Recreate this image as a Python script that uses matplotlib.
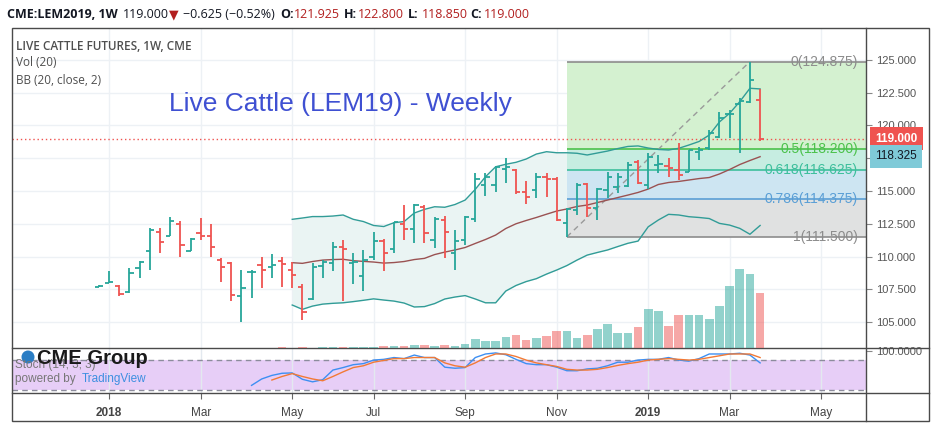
import numpy as np
import matplotlib
matplotlib.use("Agg")
import matplotlib.pyplot as plt
from matplotlib.lines import Line2D
from matplotlib.patches import Rectangle, Ellipse

plt.rcParams['font.family'] = ['Liberation Sans', 'DejaVu Sans']

W, H = 936, 424

# weekly OHLC, index 0 = week of 2017-12-25, last = week of 2019-03-25
opens = [107.70, 108.00, 107.75, 107.30, 109.10, 110.40, 111.90, 111.60, 112.50, 110.40,
         111.80, 111.60, 109.70, 109.50, 107.00, 108.80, 109.35, 109.20, 109.65, 108.97,
         107.65, 106.75, 109.25, 109.50, 110.75, 109.50, 108.50, 110.00, 111.20, 110.55,
         112.50, 112.10, 113.80, 111.25, 112.80, 110.30, 111.25, 112.85, 115.45, 115.45,
         116.70, 116.60, 114.90, 115.10, 116.10, 115.90, 112.55, 113.55, 115.50, 113.70,
         115.10, 115.30, 115.35, 117.20, 115.45, 117.00, 116.90, 116.60, 116.45, 118.00,
         118.25, 119.15, 120.85, 121.65, 121.80, 121.925]
highs = [107.80, 108.90, 107.82, 109.10, 109.66, 112.15, 112.20, 113.00, 112.70, 111.40,
         112.96, 112.50, 109.86, 109.60, 109.00, 109.00, 110.00, 110.20, 110.00, 109.60,
         107.90, 109.50, 109.70, 111.10, 111.25, 110.30, 110.50, 111.90, 111.30, 112.60,
         113.90, 114.00, 113.90, 113.00, 113.10, 112.00, 113.10, 116.40, 116.40, 116.90,
         117.50, 116.70, 115.80, 116.40, 116.40, 116.10, 113.70, 115.60, 115.60, 115.20,
         116.45, 116.40, 117.20, 117.35, 117.90, 117.75, 117.50, 118.65, 118.10, 118.35,
         119.65, 121.00, 121.20, 122.10, 124.875, 122.80]
lows = [107.65, 108.00, 107.00, 107.24, 108.33, 109.00, 110.25, 111.60, 110.00, 110.40,
        111.26, 110.00, 108.06, 106.60, 105.00, 106.80, 107.57, 108.40, 107.70, 107.60,
        105.15, 106.70, 108.40, 108.90, 106.60, 107.90, 107.40, 109.70, 108.90, 110.25,
        111.25, 111.00, 111.00, 110.65, 109.90, 109.00, 110.90, 112.60, 114.60, 114.90,
        115.60, 114.80, 114.00, 114.50, 114.55, 112.70, 111.50, 113.20, 113.00, 112.80,
        114.50, 114.85, 115.30, 115.50, 115.15, 116.40, 116.05, 115.85, 116.45, 117.35,
        118.10, 119.05, 119.05, 117.90, 121.70, 118.85]
closes = [107.75, 108.05, 107.15, 108.76, 109.60, 112.00, 111.10, 112.70, 110.90, 111.30,
          111.60, 110.70, 109.20, 107.06, 107.60, 108.85, 108.97, 109.35, 109.45, 108.60,
          105.80, 109.20, 109.60, 110.75, 110.60, 109.60, 109.70, 111.20, 110.25, 112.60,
          112.10, 113.90, 111.80, 112.85, 111.90, 111.20, 113.00, 115.90, 116.10, 116.80,
          116.80, 114.90, 114.55, 116.10, 115.90, 112.80, 113.60, 115.45, 113.70, 115.15,
          116.10, 116.10, 117.00, 115.60, 117.60, 117.05, 116.75, 116.20, 118.10, 118.10,
          119.45, 120.60, 120.90, 121.90, 123.50, 119.00]
volumes = [0.2, 0.2, 0.2, 0.2, 0.2, 0.2, 0.2, 0.2, 0.2, 0.2,
           0.4, 0.4, 0.4, 0.4, 0.4, 0.4, 0.4, 0.4, 0.7, 0.4,
           0.7, 0.4, 0.7, 0.7, 0.7, 0.7, 0.7, 0.7, 1.7, 2.3,
           2.3, 3.3, 3.3, 1.7, 3.3, 2.3, 4.3, 9.3, 6.7, 7.3,
           11.0, 13.3, 8.3, 10.0, 12.3, 17.3, 17.3, 10.0, 13.3, 19.3,
           24.3, 15.0, 15.0, 20.7, 39.3, 37.3, 22.3, 33.3, 33.3, 33.3,
           29.3, 42.3, 62.0, 79.0, 74.0, 55.0]

# Bollinger Bands (20, close, 2), first value at bar 19
bb_start = 19
bb_upper = [112.84, 112.94, 113.05, 113.05, 113.09, 113.17, 112.84, 112.67, 112.37, 112.29,
            112.58, 112.67, 113.32, 113.60, 113.80, 113.76, 113.97, 114.31, 115.13, 116.09,
            116.85, 117.04, 117.19, 117.44, 117.82, 118.00, 117.92, 117.92, 117.88, 117.75,
            117.90, 118.05, 118.24, 118.40, 118.44, 118.28, 118.17, 118.13, 118.26, 118.51,
            118.78, 119.27, 120.27, 120.93, 121.82, 122.84, 122.79]
bb_basis = [109.53, 109.48, 109.62, 109.73, 109.77, 109.79, 109.68, 109.63, 109.58, 109.50,
            109.54, 109.62, 109.77, 109.86, 110.15, 110.34, 110.50, 110.69, 111.00, 111.30,
            111.64, 112.14, 112.50, 112.75, 112.98, 113.23, 113.47, 113.63, 113.82, 113.93,
            114.12, 114.31, 114.50, 114.69, 114.89, 115.15, 115.50, 115.65, 115.73, 115.84,
            115.95, 116.03, 116.30, 116.64, 117.02, 117.33, 117.62]
bb_lower = [106.30, 105.97, 106.22, 106.37, 106.43, 106.47, 106.56, 106.66, 106.77, 106.68,
            106.60, 106.45, 106.15, 106.18, 106.41, 106.76, 106.91, 107.02, 106.76, 106.47,
            106.47, 107.37, 107.79, 108.09, 108.31, 108.66, 108.97, 109.31, 109.73, 110.11,
            110.31, 110.50, 110.76, 111.01, 111.18, 112.27, 112.79, 113.22, 113.17, 113.04,
            112.98, 112.90, 112.53, 112.40, 112.15, 111.70, 112.37]

# Stoch (14, 3, 3)
stoch_k_start = 15
stoch_k = [28.7, 41.9, 49.2, 53.6, 54.3, 41.2, 36.0, 40.4, 60.2, 65.3,
           71.2, 73.4, 80.7, 82.2, 85.9, 83.7, 91.0, 85.9, 85.9, 66.1,
           63.9, 65.3, 85.9, 93.2, 95.4, 91.7, 82.2, 73.4, 71.2, 71.2,
           66.1, 58.8, 58.8, 62.5, 63.9, 69.0, 76.3, 76.3, 80.7, 82.2,
           82.2, 85.9, 80.7, 78.5, 83.7, 93.2, 93.2, 93.2, 94.7, 91.0, 74.9]
stoch_d_start = 17
stoch_d = [39.7, 47.0, 52.9, 47.0, 41.9, 38.2, 47.0, 56.5, 65.3, 69.0,
           76.3, 80.0, 83.7, 83.7, 85.9, 85.9, 85.9, 74.9, 69.0, 66.1,
           74.9, 85.9, 93.2, 93.2, 88.1, 80.7, 74.9, 71.2, 67.6, 61.7,
           60.2, 60.2, 61.7, 65.3, 69.7, 73.4, 76.3, 80.7, 82.2, 83.7,
           82.2, 80.7, 82.2, 85.9, 89.5, 93.2, 93.2, 93.2, 85.9]

# Fibonacci retracement drawing
fib_start, fib_end = 46, 64
fib_names = ['0', '0.5', '0.618', '0.786', '1']
fib_prices = [124.875, 118.200, 116.625, 114.375, 111.500]
fib_line_colors = ['#8c8c8c', '#4cc24c', '#3dbf9c', '#5a9fd6', '#8c8c8c']
fib_zone_colors = ['#d4f1d0', '#c6ede1', '#cde5f2', '#e0e1e1']

month_ticks = [1, 10, 19, 27, 36, 45, 54, 62, 71]
month_labels = ['2018', 'Mar', 'May', 'Jul', 'Sep', 'Nov', '2019', 'Mar', 'May']
price_ticks = [105.0, 107.5, 110.0, 112.5, 115.0, 117.5, 120.0, 122.5, 125.0]
hidden_price_labels = [117.5]   # covered by the 118.325 marker

GREEN = '#26a69a'
RED = '#ef5350'
XLIM = (-8.55, 75.41)


def box(x0, y0, x1, y1):
    return [x0 / W, 1 - y1 / H, (x1 - x0) / W, (y1 - y0) / H]


def ftext(x, y, s, **kw):
    fig.text(x / W, 1 - y / H, s, va='center', **kw)


fig = plt.figure(figsize=(W / 100, H / 100), dpi=100)
ax = fig.add_axes(box(12, 28, 866, 348))
ax_vol = fig.add_axes(box(12, 28, 866, 348), zorder=3)
ax_st = fig.add_axes(box(12, 348, 866, 393))

idx = np.arange(len(closes))
up = np.array(closes) >= np.array(opens)
bar_colors = np.where(up, GREEN, RED)

# --- price pane ---
bb_x = np.arange(bb_start, bb_start + len(bb_basis))
ax.fill_between(bb_x, bb_lower, bb_upper, color='#eaf4f3', lw=0, zorder=1)

for k in range(4):
    ax.fill_between([fib_start, XLIM[1]], fib_prices[k + 1], fib_prices[k],
                    color=fib_zone_colors[k], lw=0, zorder=2)
for name, p, c in zip(fib_names, fib_prices, fib_line_colors):
    ax.hlines(p, fib_start, XLIM[1], color=c, lw=1.2, zorder=3)
    ax.annotate('%s(%.3f)' % (name, p), xy=(1.0, p), xycoords=ax.get_yaxis_transform(),
                xytext=(-8, 0), textcoords='offset pixels', ha='right', va='center',
                color=c, fontsize=10, zorder=7)
ax.plot([fib_start, fib_end], [fib_prices[-1], fib_prices[0]], color='#9a9a9a',
        lw=1, ls=(0, (4, 3)), zorder=3)

ax.plot(bb_x, bb_upper, color='#319c97', lw=1, zorder=4)
ax.plot(bb_x, bb_lower, color='#319c97', lw=1, zorder=4)
ax.plot(bb_x, bb_basis, color='#9a5252', lw=1, zorder=4)

ax.vlines(idx, lows, highs, colors=bar_colors, lw=1.3, zorder=6)
ax.hlines(opens, idx - 0.42, idx, colors=bar_colors, lw=1.3, zorder=6)
ax.hlines(closes, idx, idx + 0.42, colors=bar_colors, lw=1.3, zorder=6)

ax.axhline(closes[-1], color=RED, lw=1, ls=(0, (1, 2)), zorder=5)

ax.set_xlim(XLIM)
ax.set_ylim(103.02, 127.44)
ax.set_xticks(month_ticks)
ax.set_yticks(price_ticks)
ax.set_yticklabels(['' if v in hidden_price_labels else '%.3f' % v for v in price_ticks])
ax.yaxis.tick_right()
ax.tick_params(axis='x', bottom=False, labelbottom=False)
ax.tick_params(axis='y', length=4, width=0.8, color='#888888', labelsize=8,
               labelcolor='#555555', pad=3)
ax.grid(color='#edf1f5', lw=1)
ax.set_axisbelow(True)
for s in ax.spines.values():
    s.set_visible(False)

ax.annotate('%.3f' % closes[-1], xy=(1.0, closes[-1]), xycoords=ax.get_yaxis_transform(),
            xytext=(9, 0), textcoords='offset pixels', ha='left', va='center',
            color='white', fontsize=8.5, fontweight='bold', zorder=8, annotation_clip=False,
            bbox=dict(boxstyle='square,pad=0.45', fc='#ef5350', ec='none'))
ax.annotate('118.325', xy=(1.0, 118.325), xycoords=ax.get_yaxis_transform(),
            xytext=(9, -9), textcoords='offset pixels', ha='left', va='center',
            color='#131722', fontsize=8.5, zorder=8, annotation_clip=False,
            bbox=dict(boxstyle='square,pad=0.45', fc='#7fcad8', ec='none'))

# --- volume overlay ---
ax_vol.bar(idx, volumes, width=0.85, color=bar_colors, alpha=0.5, lw=0)
ax_vol.set_xlim(XLIM)
ax_vol.set_ylim(0, 320)
ax_vol.axis('off')
ax_vol.patch.set_alpha(0)

# --- stochastic pane ---
ax_st.axhspan(20, 80, color='#e7cef7', lw=0, zorder=0)
ax_st.axhline(80, color='#8c8c9c', lw=1, ls=(0, (4, 3)), zorder=1)
ax_st.axhline(20, color='#8c8c9c', lw=1, ls=(0, (4, 3)), zorder=1)
ax_st.plot(np.arange(stoch_k_start, stoch_k_start + len(stoch_k)), stoch_k,
           color='#3d8ff2', lw=1, zorder=3)
ax_st.plot(np.arange(stoch_d_start, stoch_d_start + len(stoch_d)), stoch_d,
           color='#f27a36', lw=1, zorder=3)
ax_st.set_xlim(XLIM)
ax_st.set_ylim(13.06, 105.5)
ax_st.set_xticks(month_ticks)
ax_st.set_xticklabels(month_labels)
for lab in ax_st.get_xticklabels():
    if lab.get_text().isdigit():
        lab.set_fontweight('bold')
ax_st.set_yticks([100])
ax_st.set_yticklabels(['100.0000'])
ax_st.yaxis.tick_right()
ax_st.tick_params(axis='x', length=4, width=0.8, color='#666666', labelsize=8.5,
                  labelcolor='#444444', pad=6)
ax_st.tick_params(axis='y', length=4, width=0.8, color='#888888', labelsize=8,
                  labelcolor='#555555', pad=3)
ax_st.grid(axis='x', color='#e3e9ef', lw=1)
ax_st.set_axisbelow(True)
for s in ax_st.spines.values():
    s.set_visible(False)

# --- frame and separators ---
fr = '#4a4a4a'
fig.add_artist(Rectangle((12 / W, 1 - 421 / H), (929 - 12) / W, (421 - 28) / H,
                         transform=fig.transFigure, fill=False, ec=fr, lw=1))
for yy in (348, 393):
    fig.add_artist(Line2D([12 / W, 929 / W], [1 - yy / H, 1 - yy / H],
                          transform=fig.transFigure, color=fr, lw=1))
fig.add_artist(Line2D([866 / W, 866 / W], [1 - 28 / H, 1 - 421 / H],
                      transform=fig.transFigure, color=fr, lw=1))

# --- texts ---
hdr = ['Open Sans', 'DejaVu Sans']
dark = '#131722'
dred = '#b21f1f'
ftext(7, 15, 'CME:LEM2019, 1W', family=hdr, fontsize=9, fontweight='bold', color=dark)
ftext(123, 15, '119.000', family=hdr, fontsize=9, color=dark)
ftext(169, 15, '\u25bc', family=['DejaVu Sans'], fontsize=9, color=dred)
ftext(183, 15, '\u22120.625 (\u22120.52%)', family=hdr, fontsize=9, color=dark)
for x0, k, v in [(280, 'O:', '121.925'), (344, 'H:', '122.800'),
                 (408, 'L:', '118.850'), (470, 'C:', '119.000')]:
    ftext(x0, 15, k, family=hdr, fontsize=9, fontweight='bold', color=dark)
    ftext(x0 + 14, 15, v, family=hdr, fontsize=9, color=dred)

ftext(16, 46, 'LIVE CATTLE FUTURES, 1W, CME', family=hdr, fontsize=8.5,
      fontweight='semibold', color='#4f4f4f')
ftext(16, 62, 'Vol (20)', family=hdr, fontsize=8.5, color='#4f4f4f')
ftext(16, 80, 'BB (20, close, 2)', family=hdr, fontsize=8.5, color='#4f4f4f')

ftext(340, 104, 'Live Cattle (LEM19) - Weekly', ha='center', fontsize=19, color='#3f50d2')

# CME Group logo over the stoch legend
ftext(15, 365, 'Stoch (14, 3, 3)', fontsize=8.5, color='#777777')
fig.add_artist(Ellipse((28 / W, 1 - 357 / H), 13 / W, 13 / H, transform=fig.transFigure,
                       fc='#2a7dc4', ec='none'))
ftext(37, 358, 'CME Group', fontsize=14.5, fontweight='bold', color='#1a1a1a')
ftext(15, 379, 'powered by', fontsize=8.5, color='#777777')
ftext(82, 379, 'TradingView', fontsize=8.5, color='#3d8fe0')

fig.savefig('out.png', dpi=100, facecolor='white')
